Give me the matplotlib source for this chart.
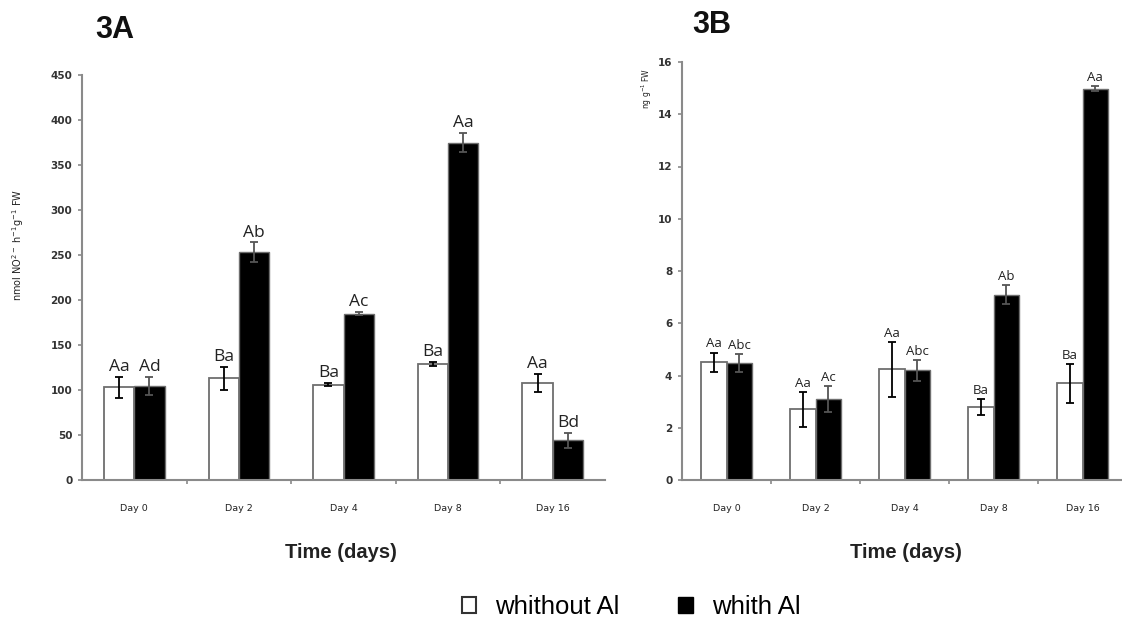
import matplotlib
matplotlib.use("Agg")
import matplotlib.pyplot as plt
import numpy as np
from matplotlib.patches import Patch

days = ["Day 0", "Day 2", "Day 4", "Day 8", "Day 16"]

# Panel 3A
a_without = [103, 113, 106, 129, 108]
a_without_err = [12, 12.5, 2, 2, 10]
a_with = [105, 253, 185, 375, 44]
a_with_err = [10, 11, 2, 11, 8]
a_lab_without = ["Aa", "Ba", "Ba", "Ba", "Aa"]
a_lab_with = ["Ad", "Ab", "Ac", "Aa", "Bd"]

# Panel 3B
b_without = [4.5, 2.7, 4.23, 2.8, 3.7]
b_without_err = [0.38, 0.68, 1.05, 0.3, 0.75]
b_with = [4.47, 3.1, 4.2, 7.1, 14.98]
b_with_err = [0.35, 0.5, 0.4, 0.35, 0.1]
b_lab_without = ["Aa", "Aa", "Aa", "Ba", "Ba"]
b_lab_with = ["Abc", "Ac", "Abc", "Ab", "Aa"]

W, H = 1122, 635
fig = plt.figure(figsize=(W / 100, H / 100), dpi=100)
plt.rcParams['font.family'] = ['DejaVu Sans']

spine_col = "#8a8a8a"
edge_col = "#6e6e6e"


def panel(ax, wo, woe, wi, wie, lwo, lwi, ymax, ystep, lab_fs, off):
    x = np.arange(len(days))
    bw = 0.29
    ax.bar(x - bw / 2, wo, bw, color="white", edgecolor=edge_col, linewidth=1.3, zorder=2)
    ax.bar(x + bw / 2, wi, bw, color="black", edgecolor=edge_col, linewidth=1.0, zorder=2)
    ax.errorbar(x - bw / 2, wo, yerr=woe, fmt="none", ecolor="black", elinewidth=1.3,
                capsize=3, capthick=1.3, zorder=3)
    ax.errorbar(x + bw / 2, wi, yerr=wie, fmt="none", ecolor="#555555", elinewidth=1.3,
                capsize=3, capthick=1.3, zorder=3)
    for i in range(len(days)):
        ax.text(x[i] - bw / 2, wo[i] + woe[i] + off, lwo[i], ha="center", va="bottom",
                fontsize=lab_fs, color="#222222", family="Open Sans")
        ax.text(x[i] + bw / 2, wi[i] + wie[i] + off, lwi[i], ha="center", va="bottom",
                fontsize=lab_fs, color="#222222", family="Open Sans")
    ax.set_xlim(-0.5, len(days) - 0.5)
    ax.set_ylim(0, ymax)
    ax.set_yticks(np.arange(0, ymax + 0.001, ystep))
    ax.set_xticks(x)
    ax.set_xticklabels(days, fontsize=6.8, color="#222222")
    ax.set_xticks(np.arange(0.5, len(days) - 0.5, 1), minor=True)
    ax.tick_params(axis="x", which="major", length=0, pad=17)
    ax.tick_params(axis="x", which="minor", length=3, color=spine_col, width=1.2)
    ax.tick_params(axis="y", length=3, color=spine_col, width=1.2, labelsize=7.5,
                   labelcolor="#333333", pad=4)
    for s in ["top", "right"]:
        ax.spines[s].set_visible(False)
    for s in ["left", "bottom"]:
        ax.spines[s].set_color(spine_col)
        ax.spines[s].set_linewidth(1.5)
    for lab in ax.get_yticklabels():
        lab.set_fontweight("bold")


axA = fig.add_axes([82 / W, 1 - 480 / H, (605 - 82) / W, (480 - 75) / H])
panel(axA, a_without, a_without_err, a_with, a_with_err, a_lab_without, a_lab_with,
      450, 50, 12.5, 2)

axB = fig.add_axes([682 / W, 1 - 480 / H, (1127 - 682) / W, (480 - 62) / H])
panel(axB, b_without, b_without_err, b_with, b_with_err, b_lab_without, b_lab_with,
      16, 2, 9.5, 0.08)

# Axis labels
fig.text(341 / W, 1 - 552 / H, "Time (days)", ha="center", va="center",
         fontsize=14.5, fontweight="bold", color="#222222", family="Liberation Sans")
fig.text(906 / W, 1 - 552 / H, "Time (days)", ha="center", va="center",
         fontsize=14.5, fontweight="bold", color="#222222", family="Liberation Sans")
fig.text(18 / W, 1 - 245 / H, "nmol NO$^{2-}$ h$^{-1}$g$^{-1}$ FW", rotation=90,
         ha="center", va="center", fontsize=7, color="#222222")
fig.text(647 / W, 1 - 88 / H, "ng g$^{-1}$ FW", rotation=90,
         ha="center", va="center", fontsize=5.5, color="#222222")

# Panel titles
fig.text(95 / W, 1 - 30 / H, "3A", ha="left", va="center", fontsize=22,
         fontweight="bold", color="#111111", family="Liberation Sans")
fig.text(692 / W, 1 - 25 / H, "3B", ha="left", va="center", fontsize=22,
         fontweight="bold", color="#111111", family="Liberation Sans")

# Legend
handles = [Patch(facecolor="white", edgecolor="#333333", linewidth=1.5, label="whithout Al"),
           Patch(facecolor="black", edgecolor="black", label="whith Al")]
fig.legend(handles=handles, loc="center", bbox_to_anchor=(631 / W, 1 - 607 / H),
           ncol=2, frameon=False, prop={"family": "Liberation Sans", "size": 18.5},
           handlelength=0.55, handleheight=0.55, columnspacing=2.3, handletextpad=0.75)

fig.savefig("out.png", dpi=100)
